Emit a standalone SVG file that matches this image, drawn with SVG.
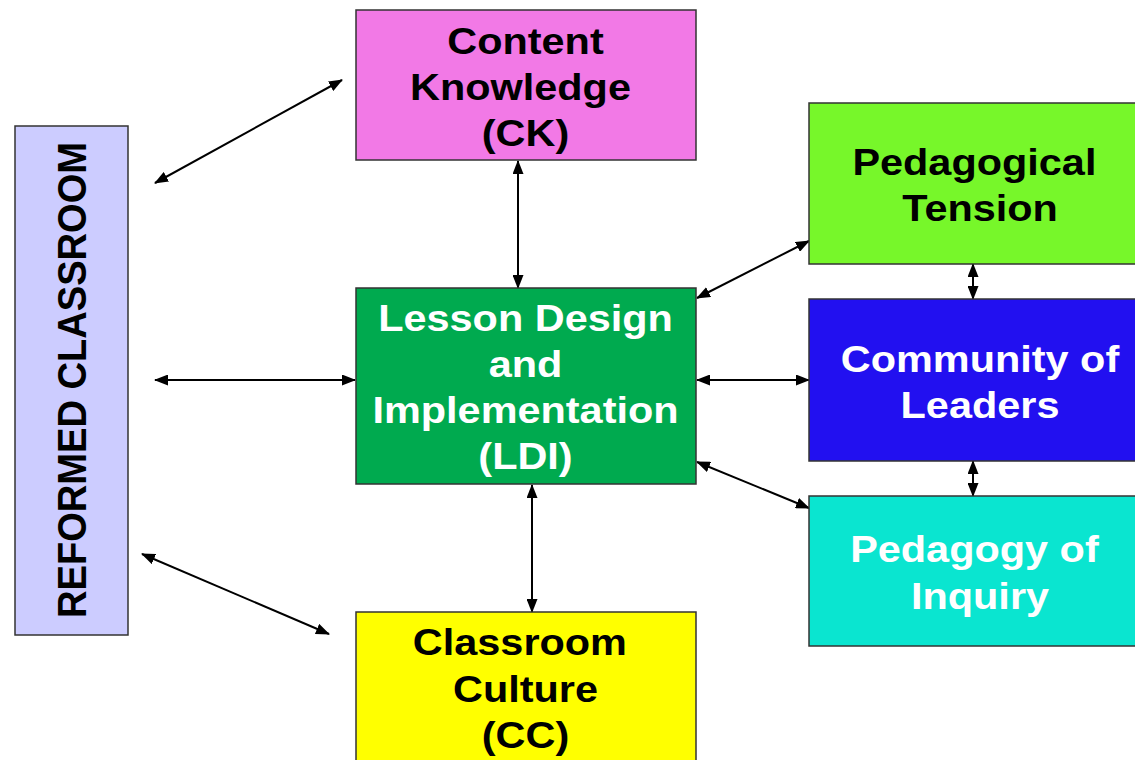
<svg xmlns="http://www.w3.org/2000/svg" width="1135" height="760" viewBox="0 0 1135 760">
  <defs>
    <style>
      .box { stroke: #333333; stroke-width: 1.5; }
      .lbl { font-family: "Liberation Sans", Arial, sans-serif; font-weight: bold; font-size: 37px; text-anchor: middle; }
      .dark { fill: #000000; }
      .light { fill: #ffffff; }
      .link { stroke: #000000; stroke-width: 2; fill: none; marker-start: url(#head); marker-end: url(#head); }
    </style>
    <marker id="head" markerUnits="userSpaceOnUse" markerWidth="14" markerHeight="11" viewBox="0 0 14 11" refX="13" refY="5.5" orient="auto-start-reverse">
      <path d="M0,0 L14,5.5 L0,11 z" fill="#000000"/>
    </marker>
  </defs>

  <rect width="1135" height="760" fill="#ffffff"/>

  <!-- connectors -->
  <g id="connectors">
    <line class="link" x1="155" y1="183" x2="342" y2="80"/>
    <line class="link" x1="155" y1="380" x2="355" y2="380"/>
    <line class="link" x1="142" y1="554" x2="329" y2="634"/>
    <line class="link" x1="518" y1="161" x2="518" y2="288"/>
    <line class="link" x1="532" y1="485" x2="532" y2="612"/>
    <line class="link" x1="697" y1="298" x2="809" y2="241"/>
    <line class="link" x1="697" y1="380" x2="809" y2="380"/>
    <line class="link" x1="697" y1="462" x2="809" y2="508"/>
    <line class="link" x1="973" y1="264" x2="973" y2="299"/>
    <line class="link" x1="973" y1="461" x2="973" y2="496"/>
  </g>

  <!-- reformed classroom -->
  <g id="reformed-classroom">
    <rect class="box" x="15" y="126" width="113" height="509" fill="#CCCCFF"/>
    <text class="lbl dark" font-size="38" transform="translate(85.5 380) scale(1.12 1) rotate(-90)" x="0" y="0" textLength="476" lengthAdjust="spacingAndGlyphs">REFORMED CLASSROOM</text>
  </g>

  <!-- content knowledge -->
  <g id="content-knowledge">
    <rect class="box" x="356" y="10" width="340" height="150" fill="#F279E6"/>
    <text class="lbl dark" transform="translate(525.5 0) scale(1.12 1)"><tspan x="0" y="54">Content</tspan><tspan x="-4.5" y="100">Knowledge</tspan><tspan x="0" y="146">(CK)</tspan></text>
  </g>

  <!-- lesson design -->
  <g id="lesson-design">
    <rect class="box" x="356" y="288" width="340" height="196" fill="#00AA4F"/>
    <text class="lbl light" transform="translate(525.5 0) scale(1.12 1)"><tspan x="0" y="331">Lesson Design</tspan><tspan x="0" y="377">and</tspan><tspan x="0" y="423">Implementation</tspan><tspan x="0" y="469">(LDI)</tspan></text>
  </g>

  <!-- classroom culture -->
  <g id="classroom-culture">
    <rect class="box" x="356" y="612" width="340" height="160" fill="#FFFF00"/>
    <text class="lbl dark" transform="translate(525.5 0) scale(1.12 1)"><tspan x="-5" y="655">Classroom</tspan><tspan x="0" y="702">Culture</tspan><tspan x="0" y="748">(CC)</tspan></text>
  </g>

  <!-- pedagogical tension -->
  <g id="pedagogical-tension">
    <rect class="box" x="809" y="103" width="345" height="161" fill="#77F72A"/>
    <text class="lbl dark" transform="translate(980 0) scale(1.12 1)"><tspan x="-5" y="175">Pedagogical</tspan><tspan x="0" y="221">Tension</tspan></text>
  </g>

  <!-- community of leaders -->
  <g id="community-of-leaders">
    <rect class="box" x="809" y="299" width="345" height="162" fill="#2210F0"/>
    <text class="lbl light" transform="translate(980 0) scale(1.12 1)"><tspan x="0" y="372">Community of</tspan><tspan x="0" y="418">Leaders</tspan></text>
  </g>

  <!-- pedagogy of inquiry -->
  <g id="pedagogy-of-inquiry">
    <rect class="box" x="809" y="496" width="345" height="150" fill="#0AE5D0"/>
    <text class="lbl light" transform="translate(980 0) scale(1.12 1)"><tspan x="-5" y="562">Pedagogy of</tspan><tspan x="0" y="609">Inquiry</tspan></text>
  </g>
</svg>
